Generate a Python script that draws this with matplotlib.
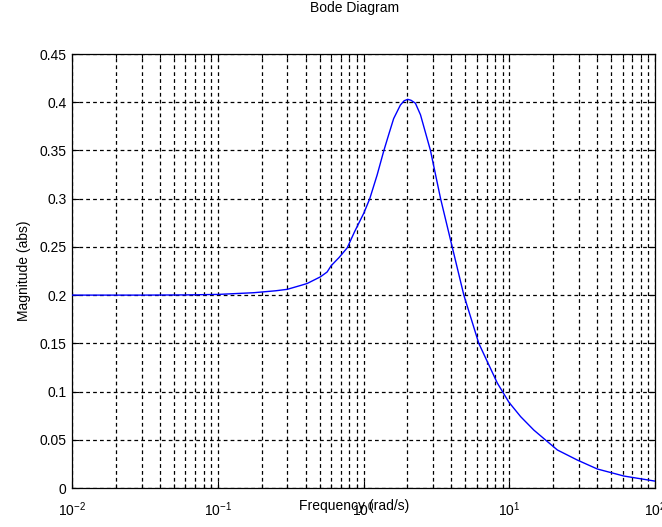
import matplotlib
matplotlib.use("Agg")
import matplotlib.pyplot as plt
from matplotlib.ticker import LogLocator, FixedLocator, NullFormatter

plt.rcParams['font.family'] = ['Liberation Sans', 'DejaVu Sans']
plt.rcParams['mathtext.fontset'] = 'custom'
plt.rcParams['mathtext.rm'] = 'Liberation Sans'
plt.rcParams['mathtext.it'] = 'Liberation Sans'

# Frequency response samples (rad/s) and magnitude (abs)
freq = [0.01, 0.03, 0.06, 0.1, 0.177, 0.25, 0.30, 0.37, 0.41, 0.507, 0.563,
        0.60, 0.68, 0.773, 0.87, 1.005, 1.104, 1.24, 1.38, 1.50, 1.61, 1.79,
        1.90, 2.01, 2.12, 2.27, 2.46, 2.88, 3.38, 4.06, 4.88, 6.18, 8.27,
        9.94, 11.97, 14.76, 17.76, 21.4, 29.3, 40.2, 61.2, 98.4, 100.0]
mag = [0.200, 0.200, 0.2002, 0.2007, 0.2025, 0.2045, 0.206, 0.210, 0.212,
       0.219, 0.224, 0.2305, 0.239, 0.249, 0.266, 0.285, 0.300, 0.3245,
       0.350, 0.368, 0.383, 0.397, 0.4015, 0.403, 0.402, 0.399, 0.387,
       0.350, 0.300, 0.250, 0.200, 0.150, 0.109, 0.089, 0.074, 0.060,
       0.0497, 0.0394, 0.029, 0.0197, 0.0124, 0.0073, 0.0072]

y_ticks = [0, 0.05, 0.1, 0.15, 0.2, 0.25, 0.3, 0.35, 0.4, 0.45]
y_tick_labels = ['0', '0.05', '0.1', '0.15', '0.2', '0.25', '0.3', '0.35', '0.4', '0.45']

fig = plt.figure(figsize=(6.62, 5.27), dpi=100)
ax = fig.add_axes([72 / 662, 39 / 527, 583 / 662, 434 / 527])

ax.plot(freq, mag, color=(0, 0, 1), linewidth=1.0, zorder=3)

ax.set_xscale('log')
ax.set_xlim(1e-2, 1e2)
ax.set_ylim(0, 0.45)

ax.xaxis.set_major_locator(LogLocator(base=10, numticks=10))
ax.xaxis.set_minor_locator(LogLocator(base=10, subs=range(2, 10), numticks=20))
ax.xaxis.set_minor_formatter(NullFormatter())
ax.yaxis.set_major_locator(FixedLocator(y_ticks))
ax.set_yticklabels(y_tick_labels)

dash = (0, (3.0, 2.5))
ax.grid(True, which='major', axis='both', color='black', linestyle=dash, linewidth=0.9)
ax.grid(True, which='minor', axis='x', color='black', linestyle=dash, linewidth=0.9)
ax.set_axisbelow(True)

ax.tick_params(which='both', direction='in', top=True, right=True, labelsize=10,
               colors='black', width=0.8)
ax.tick_params(which='major', length=5)
ax.tick_params(which='minor', length=3)
ax.tick_params(axis='x', pad=9)
ax.tick_params(axis='y', pad=4)

for sp in ax.spines.values():
    sp.set_color('black')
    sp.set_linewidth(0.9)

ax.set_ylabel('Magnitude (abs)', fontsize=10, labelpad=6)
ax.set_xlabel('Frequency (rad/s)', fontsize=10, va='center')
ax.xaxis.set_label_coords((354 - 72) / 583, -18 / 434)

fig.text(355 / 662, 1 - 8 / 527, 'Bode Diagram', ha='center', va='center', fontsize=10)

fig.savefig('out.png', dpi=100)
